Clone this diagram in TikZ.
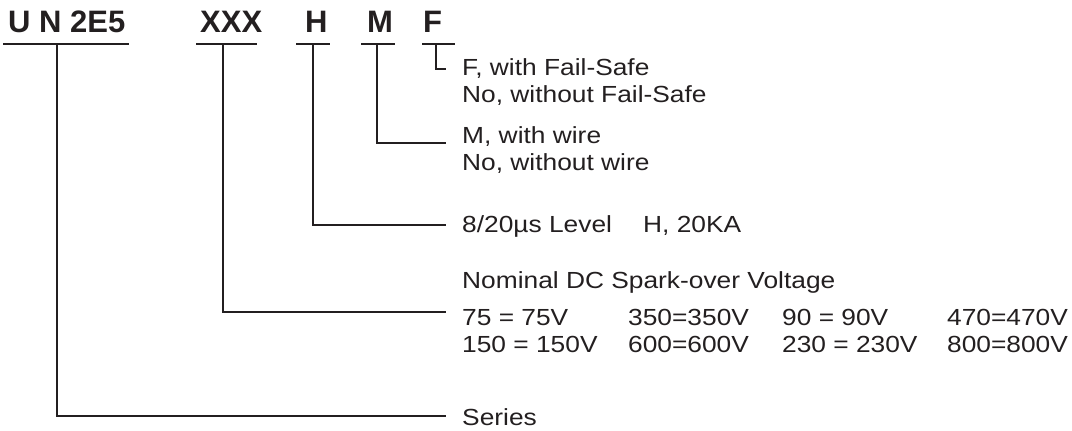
\documentclass[tikz,border=0pt]{standalone}
\usepackage{fontspec}
\setmainfont{Liberation Sans}
\newfontfamily\lblfont[FakeStretch=1.13]{Liberation Sans}
\definecolor{ink}{RGB}{35,31,32}

\begin{document}
\begin{tikzpicture}[x=1pt,y=-1pt,
  rule/.style={draw=ink,line width=1.8pt},
  code/.style={anchor=base west,inner sep=0pt,text=ink,font=\fontsize{31}{36}\selectfont\bfseries},
  lbl/.style={anchor=base west,inner xsep=16pt,inner ysep=0pt,text=ink,font=\lblfont\fontsize{23.3}{27}\selectfont}]
  \useasboundingbox (0,0) rectangle (1072,431);
  % code letters, underlines and stem points
  \foreach \nm/\txt/\tx/\ul/\ur/\st in {un/U N 2E5/8/3/129/57,xxx/XXX/200/196/257/223,h/H/305/296/330/313,m/M/367/361/395/377,f/F/423/422/455/436}{
    \node[code] (\nm) at (\tx,32) {\txt};
    \draw[rule] (\ul,44) -- (\ur,44);
    \coordinate (\nm s) at (\st,44);
  }
  % option texts
  \node[lbl] (fyes) at (446,75) {F, with Fail-Safe};
  \node[lbl] (fno) at (446,102) {No, without Fail-Safe};
  \node[lbl] (myes) at (446,143) {M, with wire};
  \node[lbl] (mno) at (446,170) {No, without wire};
  \node[lbl] (hlvl) at (446,232) {\makebox[181pt][l]{8/20µs Level}H, 20KA};
  \node[lbl] (volt) at (446,288) {Nominal DC Spark-over Voltage};
  \node[lbl] (vtab) at (446,325) {\begin{tabular}[t]{@{}p{166pt}@{}p{154pt}@{}p{165pt}@{}l@{}}
    75 = 75V & 350=350V & 90 = 90V & 470=470V\\
    150 = 150V & 600=600V & 230 = 230V & 800=800V
  \end{tabular}};
  \node[lbl] (series) at (446,425) {Series};
  % stems
  \draw[rule] (fs) |- ([yshift=6pt]fyes.base west);
  \draw[rule] (ms) |- (myes.base west);
  \draw[rule] (hs) |- ([yshift=7pt]hlvl.base west);
  \draw[rule] (xxxs) |- ([yshift=13pt]vtab.base west);
  \draw[rule] (uns) |- ([yshift=9pt]series.base west);
\end{tikzpicture}
\end{document}
